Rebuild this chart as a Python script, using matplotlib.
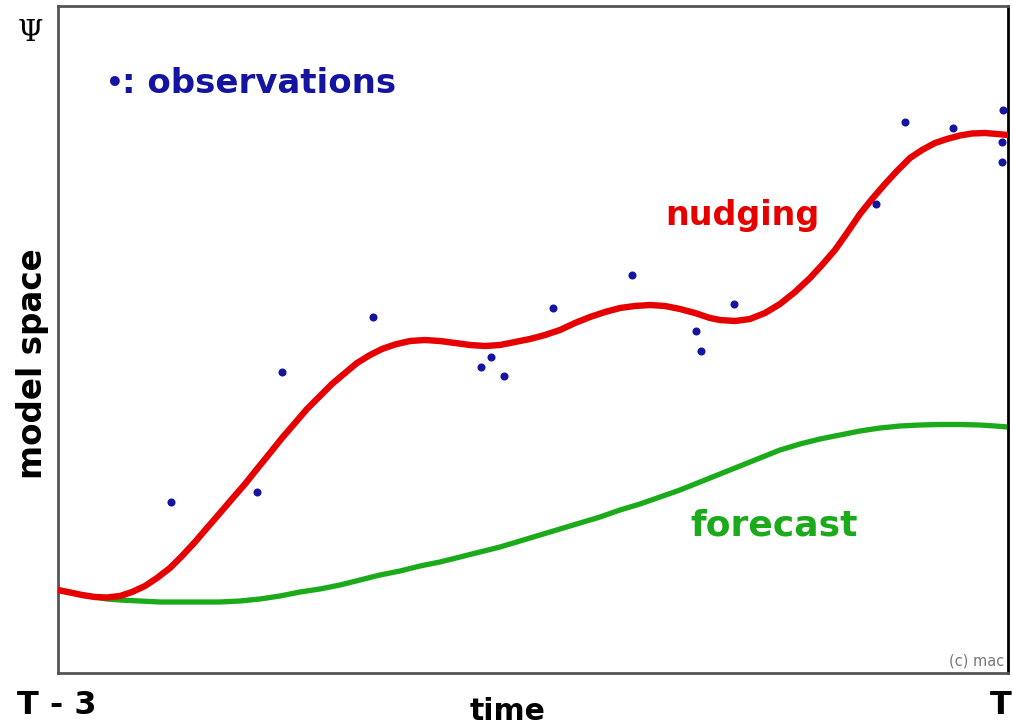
import matplotlib
matplotlib.use("Agg")
import matplotlib.pyplot as plt

# Values, in picture units (x to the right, y downward).
nudging_x = [58, 70, 82, 95, 107, 120, 132, 145, 157, 170, 182, 195, 207, 220,
             232, 245, 257, 270, 282, 295, 307, 320, 332, 345, 357, 370, 382, 395,
             410, 425, 440, 455, 470, 485, 500, 515, 530, 545, 560, 575, 590, 605,
             620, 635, 650, 665, 680, 695, 710, 720, 735, 750, 765, 780, 795, 810,
             822, 835, 847, 860, 872, 885, 897, 910, 922, 935, 947, 960, 972, 985,
             997, 1008]
nudging_y = [590, 592.5, 595, 597, 597.5, 596, 592, 586, 578, 568, 556, 542, 528, 513,
             499, 484, 469, 453, 438, 423, 409, 396, 384, 373, 363, 355, 349, 344.5,
             341, 340, 341, 343, 345, 346, 345, 342, 339, 335, 330, 323, 317, 312,
             308, 306, 305, 306, 309, 313, 318, 320, 321, 319, 313, 304, 292, 278,
             265, 250, 233, 214, 199, 184, 171, 158, 150, 143, 139, 135.5, 133.5, 133,
             134, 135]

forecast_x = [58, 70, 82, 95, 107, 120, 140, 160, 180, 200, 220, 240, 260, 280,
              300, 320, 340, 360, 380, 400, 420, 440, 460, 480, 500, 520, 540, 560,
              580, 600, 620, 640, 660, 680, 700, 720, 740, 760, 780, 800, 820, 840,
              860, 880, 900, 920, 940, 960, 980, 995, 1008]
forecast_y = [590, 592, 595, 597, 599, 600, 601, 602, 602, 602, 602, 601, 599, 596,
              592, 589, 585, 580, 575, 571, 566, 562, 557, 552, 547, 541, 535, 529,
              523, 517, 510, 504, 497, 490, 482, 474, 466, 458, 450, 444, 439, 435,
              431, 428, 426, 425, 424.5, 424.5, 425, 426, 427]

obs_x = [171, 257, 282, 373, 481, 491, 504, 553, 632, 696, 701, 734,
         876, 905, 953, 1003, 1002, 1002]
obs_y = [502, 492, 372, 317, 367, 357, 376, 308, 275, 331, 351, 304,
         204, 122, 128, 110, 142, 162]

red = "#e60000"
green = "#1aaa1a"
blue = "#1414a0"

fig = plt.figure(figsize=(10.13, 7.27), dpi=100)
ax = fig.add_axes([58 / 1013, 1 - 673 / 727, 950 / 1013, 667 / 727])

ax.plot(forecast_x, forecast_y, color=green, lw=3.8, solid_joinstyle="round", zorder=2)
ax.plot(nudging_x, nudging_y, color=red, lw=4.6, solid_joinstyle="round", zorder=3)
ax.plot(obs_x, obs_y, "o", color=blue, ms=5.8, mew=0, zorder=4, clip_on=False)

ax.set_xlim(58, 1008)
ax.set_ylim(673, 6)
ax.set_xticks([])
ax.set_yticks([])
for side in ["left", "bottom", "top"]:
    ax.spines[side].set_color("#555555")
    ax.spines[side].set_linewidth(2)
ax.spines["right"].set_color("black")
ax.spines["right"].set_linewidth(2)

bold = dict(fontweight="bold", family="DejaVu Sans")
ax.text(106, 84, "•", color=blue, fontsize=20, va="center", **bold)
ax.text(122, 83, ": observations", color=blue, fontsize=24.5, va="center", **bold)
ax.text(665, 215, "nudging", color=red, fontsize=24, va="center", **bold)
ax.text(690, 525, "forecast", color=green, fontsize=26, va="center", **bold)
ax.text(1004, 661, "(c) mac", color="#777777", fontsize=10.5, ha="right", va="center")

fig.text(30 / 1013, 1 - 33 / 727, "Ψ", family="DejaVu Serif", fontsize=21,
         ha="center", va="center")
fig.text(33 / 1013, 1 - 364 / 727, "model space", rotation=90, fontsize=23.5,
         ha="center", va="center", **bold)
fig.text(508 / 1013, 1 - 711 / 727, "time", fontsize=21.5, ha="center", va="center", **bold)
fig.text(17 / 1013, 1 - 705 / 727, "T - 3", fontsize=23, ha="left", va="center", **bold)
fig.text(1012 / 1013, 1 - 705 / 727, "T", fontsize=23, ha="right", va="center", **bold)

fig.savefig("out.png", dpi=100)
